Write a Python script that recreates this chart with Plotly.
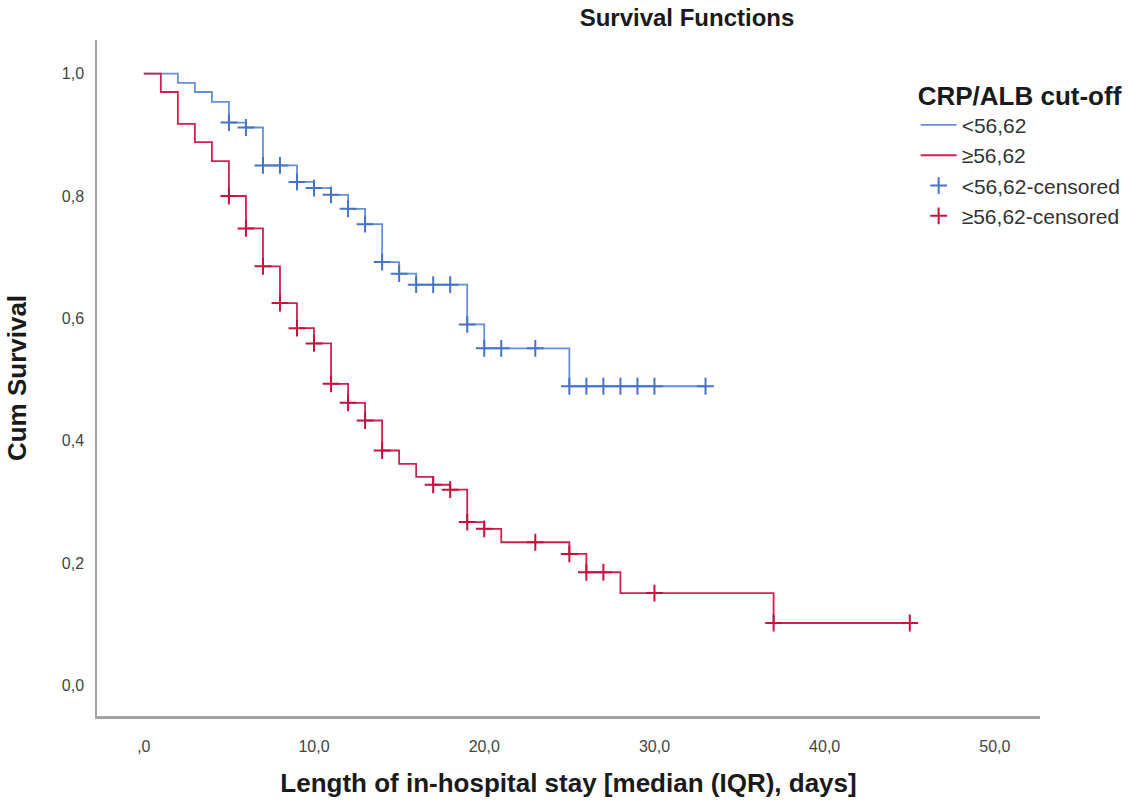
import numpy as np
import plotly.graph_objects as go

# ---- data ----
blue_times = [0, 2, 3, 4, 5, 6, 7, 9, 10, 11, 12, 13, 14, 15, 16, 19, 20, 25]
blue_surv = [1.0, 0.985, 0.970, 0.954, 0.920, 0.912, 0.850, 0.823, 0.813, 0.802,
             0.779, 0.754, 0.692, 0.673, 0.655, 0.590, 0.551, 0.489]
blue_end = 33
blue_censored = [5, 6, 7, 8, 9, 10, 11, 12, 13, 14, 15, 16, 17, 18, 19, 20, 21, 23,
                 25, 26, 27, 28, 29, 30, 33]

red_times = [0, 1, 2, 3, 4, 5, 6, 7, 8, 9, 10, 11, 12, 13, 14, 15, 16, 17, 18, 19,
             20, 21, 25, 26, 28, 37]
red_surv = [1.0, 0.970, 0.918, 0.888, 0.857, 0.800, 0.747, 0.685, 0.625, 0.584,
            0.559, 0.493, 0.462, 0.433, 0.384, 0.362, 0.341, 0.328, 0.320, 0.267,
            0.256, 0.234, 0.215, 0.185, 0.151, 0.102]
red_end = 45
red_censored = [5, 6, 7, 8, 9, 10, 11, 12, 13, 14, 17, 18, 19, 20, 23, 25, 26, 27,
                30, 37, 45]

x_tickvals = [0, 10, 20, 30, 40, 50]
x_ticktext = [",0", "10,0", "20,0", "30,0", "40,0", "50,0"]
y_tickvals = [0, 0.2, 0.4, 0.6, 0.8, 1.0]
y_ticktext = ["0,0", "0,2", "0,4", "0,6", "0,8", "1,0"]

names = ["&lt;56,62", "≥56,62", "&lt;56,62-censored", "≥56,62-censored"]

BLUE = "#6690d6"
BLUE_M = "#4673c6"
RED = "#cf2150"
RED_M = "#c8103f"


def level_at(times, surv, ts):
    idx = np.searchsorted(np.array(times), np.array(ts), side="right") - 1
    return [surv[i] for i in idx]


def step_xy(times, surv, end):
    return list(times) + [end], list(surv) + [surv[-1]]


fig = go.Figure()

bx, by = step_xy(blue_times, blue_surv, blue_end)
rx, ry = step_xy(red_times, red_surv, red_end)

fig.add_trace(go.Scatter(x=bx, y=by, mode="lines", line=dict(shape="hv", color=BLUE, width=1.8),
                         name=names[0], legendgroup="a"))
fig.add_trace(go.Scatter(x=rx, y=ry, mode="lines", line=dict(shape="hv", color=RED, width=1.8),
                         name=names[1], legendgroup="b"))
fig.add_trace(go.Scatter(x=blue_censored, y=level_at(blue_times, blue_surv, blue_censored),
                         mode="markers",
                         marker=dict(symbol="cross-thin", size=12, color=BLUE_M,
                                     line=dict(color=BLUE_M, width=2)),
                         name=names[2], legendgroup="c"))
fig.add_trace(go.Scatter(x=red_censored, y=level_at(red_times, red_surv, red_censored),
                         mode="markers",
                         marker=dict(symbol="cross-thin", size=12, color=RED_M,
                                     line=dict(color=RED_M, width=2)),
                         name=names[3], legendgroup="d"))

FONT = "Liberation Sans, Arial, sans-serif"

fig.update_layout(
    width=1138, height=811,
    margin=dict(l=97, r=93, t=40, b=95),
    paper_bgcolor="white", plot_bgcolor="white",
    font=dict(family=FONT, color="#222"),
    title=dict(text="<b>Survival Functions</b>", x=687 / 1138, xanchor="center",
               xref="container", y=1 - 18 / 811, yref="container", yanchor="middle",
               font=dict(size=24, color="#1a1a1a")),
    showlegend=True,
    legend=dict(
        title=dict(text="<b>CRP/ALB cut-off</b>", font=dict(size=26, color="#1a1a1a")),
        font=dict(size=21, color="#333"),
        x=(920 - 97) / 948, xanchor="left",
        y=(716 - 71) / 676, yanchor="top",
        bgcolor="rgba(0,0,0,0)", borderwidth=0,
        itemwidth=36,
        tracegroupgap=1, traceorder="normal",
    ),
    xaxis=dict(
        range=[-2.75, 52.65], tickvals=x_tickvals, ticktext=x_ticktext,
        showgrid=False, zeroline=False, showline=True, linecolor="#a3a3a3", linewidth=3,
        ticks="", ticklabelstandoff=14,
        tickfont=dict(size=16, color="#444"),
        title=dict(text="<b>Length of in-hospital stay [median (IQR), days]</b>",
                   font=dict(size=26, color="#1a1a1a"), standoff=20),
    ),
    yaxis=dict(
        range=[-0.05, 1.055], tickvals=y_tickvals, ticktext=y_ticktext,
        showgrid=False, zeroline=False, showline=True, linecolor="#a3a3a3", linewidth=1.5,
        ticks="", ticklabelstandoff=8,
        tickfont=dict(size=16, color="#444"),
        title=dict(text="<b>Cum Survival</b>", font=dict(size=26, color="#1a1a1a"), standoff=28),
    ),
)

fig.write_html("out.html")
